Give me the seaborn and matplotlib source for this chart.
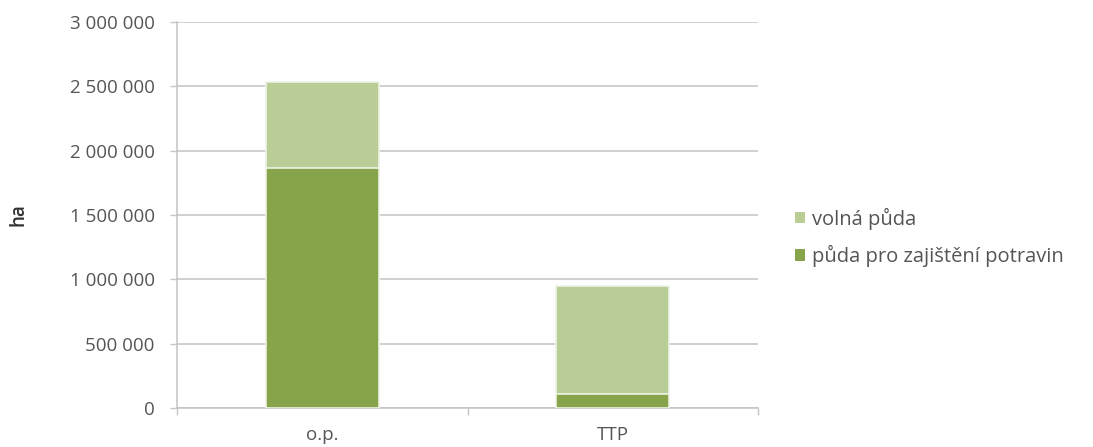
import matplotlib
matplotlib.use("Agg")
import matplotlib.pyplot as plt
from matplotlib.ticker import FuncFormatter, FixedLocator
from matplotlib.patches import Patch
import seaborn as sns
import pandas as pd

categories = ["o.p.", "TTP"]
food_land = [1865000, 110000]   # půda pro zajištění potravin
free_land = [668000, 838000]    # volná půda
series_names = ["volná půda", "půda pro zajištění potravin"]
y_ticks = [0, 500000, 1000000, 1500000, 2000000, 2500000, 3000000]

dark_green = "#88a44b"
light_green = "#b9ce97"
text_color = "#555555"
grid_color = "#c4c4c4"

sns.set_theme(style="white")
plt.rcParams["font.family"] = ["Open Sans", "DejaVu Sans"]

df = pd.DataFrame({
    "kategorie": categories,
    "food": food_land,
    "total": [f + v for f, v in zip(food_land, free_land)],
})

fig = plt.figure(figsize=(10.93, 4.47), dpi=100)
ax = fig.add_axes([0.162, 0.0872, 0.5315, 0.864])

sns.barplot(data=df, x="kategorie", y="total", color=light_green, width=0.39,
            edgecolor="#eef3e6", linewidth=1.2, saturation=1, ax=ax, zorder=3)
sns.barplot(data=df, x="kategorie", y="food", color=dark_green, width=0.39,
            edgecolor="#eef3e6", linewidth=1.2, saturation=1, ax=ax, zorder=4)

ax.set_xlim(-0.5, 1.5)
ax.set_ylim(0, 3000000)
ax.set_yticks(y_ticks)
ax.yaxis.set_major_formatter(FuncFormatter(lambda v, p: f"{int(v):,}".replace(",", " ")))
ax.yaxis.grid(True, color=grid_color, linewidth=1.1, zorder=0)
ax.set_axisbelow(True)

ax.xaxis.set_minor_locator(FixedLocator([-0.5, 0.5, 1.5]))
ax.tick_params(axis="x", which="major", length=0, pad=13, labelsize=13.5, labelcolor=text_color)
ax.tick_params(axis="x", which="minor", length=5, width=1, color=grid_color, direction="out")
ax.tick_params(axis="y", length=5, width=1, color=grid_color, direction="out", pad=11,
               labelsize=13.5, labelcolor=text_color)
ax.tick_params(left=True, bottom=True, which="both")

for side in ["top", "right"]:
    ax.spines[side].set_visible(False)
for side in ["left", "bottom"]:
    ax.spines[side].set_color(grid_color)
    ax.spines[side].set_linewidth(1.1)

ax.set_xlabel("")
ax.set_ylabel("ha", fontsize=13.5, color="#333333", fontweight="semibold")
ax.yaxis.set_label_coords(-0.256, 0.5)

handles = [Patch(facecolor=light_green, edgecolor="none"),
           Patch(facecolor=dark_green, edgecolor="none")]
leg = fig.legend(handles, series_names, loc="center left", bbox_to_anchor=(0.727, 0.469),
                 frameon=False, fontsize=14.5, handlelength=0.5, handleheight=0.5,
                 handletextpad=0.35, labelspacing=0.75, borderpad=0, borderaxespad=0)
for t in leg.get_texts():
    t.set_color(text_color)

fig.savefig("out.png", dpi=100)
